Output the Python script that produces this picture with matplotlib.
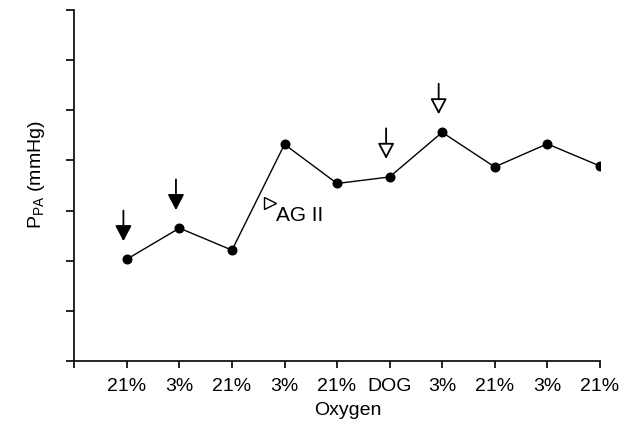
import numpy as np
import matplotlib
matplotlib.use("Agg")
import matplotlib.pyplot as plt
from matplotlib.transforms import ScaledTranslation

plt.rcParams["font.family"] = ["Liberation Sans", "DejaVu Sans"]
plt.rcParams["mathtext.fontset"] = "custom"
plt.rcParams["mathtext.rm"] = "Liberation Sans"

# data
step = np.arange(1, 11)
oxygen_labels = ["21%", "3%", "21%", "3%", "21%", "DOG", "3%", "21%", "3%", "21%"]
ppa = [2.03, 2.65, 2.21, 4.32, 3.54, 3.67, 4.56, 3.87, 4.33, 3.89]

# arrows above points: step -> filled (True) or open (False)
arrow_steps = [1, 2, 6, 7]
arrow_filled = [True, True, False, False]

fig = plt.figure(figsize=(6.3, 4.32), dpi=100)
ax = fig.add_axes([0.118, 0.1644, 0.834, 0.8125])

ax.plot(step, ppa, color="k", lw=1.0, marker="o", ms=6.2, mfc="k", mec="k")

# arrow tip sits a little above and left of its point
tip = ax.transData + ScaledTranslation(-2.5 / 72, 13 / 72, fig.dpi_scale_trans)
for s, filled in zip(arrow_steps, arrow_filled):
    ax.annotate("", xy=(s, ppa[s - 1]), xycoords=tip,
                xytext=(0, 22), textcoords="offset points",
                arrowprops=dict(arrowstyle="-|>,head_length=0.95,head_width=0.5",
                                shrinkA=0, shrinkB=0,
                                fc="k" if filled else "w", ec="k", lw=1.3))

# AG II marker
ax.plot([3.72], [3.15], marker=">", ms=8, mfc="w", mec="k", mew=1.0, ls="none")
ax.text(3.83, 2.79, "AG II", fontsize=15, ha="left", va="baseline")

ax.set_xlim(0, 10)
ax.set_ylim(0, 7)
ax.set_xticks(np.arange(0, 11))
ax.set_xticklabels([""] + oxygen_labels, fontsize=14)
ax.set_yticks(np.arange(0, 8))
ax.set_yticklabels([])
ax.tick_params(axis="x", direction="out", length=5, width=1.2, pad=7)
ax.tick_params(axis="y", direction="out", length=6, width=1.2)

for side in ["top", "right"]:
    ax.spines[side].set_visible(False)
for side in ["left", "bottom"]:
    ax.spines[side].set_linewidth(1.2)

ax.set_xlabel("Oxygen", fontsize=14, va="center")
ax.xaxis.set_label_coords(0.52, -0.142)
ax.set_ylabel(r"P$_{\mathrm{PA}}$ (mmHg)", fontsize=14, va="center")
ax.yaxis.set_label_coords(-0.072, 0.53)

fig.savefig("out.png", dpi=100)
